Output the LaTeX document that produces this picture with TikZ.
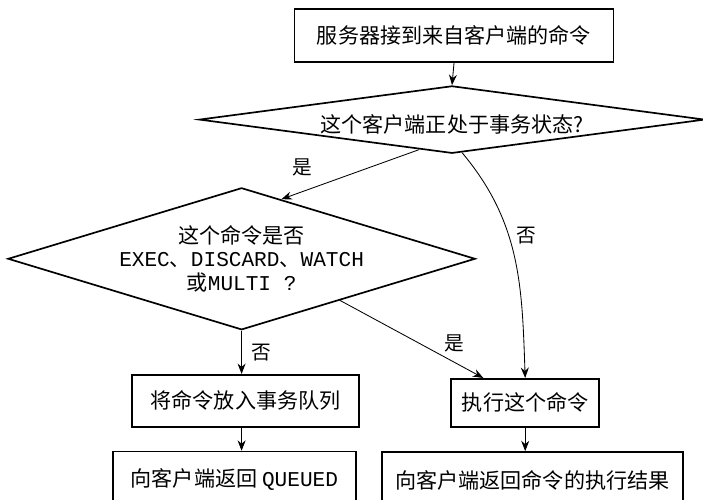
\documentclass[tikz,border=0pt]{standalone}
\usepackage{fontspec}
\setmainfont{Noto Sans CJK SC}
\setmonofont{Liberation Mono}
\usepackage{tikz}
\usetikzlibrary{arrows.meta,calc,positioning,shapes.geometric}

\begin{document}
\begin{tikzpicture}[>={Stealth[length=2.6mm,width=2mm]},
    every node/.append style={font=\fontsize{15}{17}\selectfont},
    procbox/.style={draw, line width=1.2pt, inner sep=0pt},
    decision/.style={draw, diamond, line width=1.2pt, inner sep=0pt, align=center},
    flow/.style={->, line width=0.6pt},
    answer/.style={font=\fontsize{14}{16}\selectfont, inner sep=1pt}]
    \useasboundingbox (0,0) rectangle (17.575,12.5);
    \node[procbox, minimum width=7.98cm, minimum height=1.33cm] (recv) at (11.35,11.61) {服务器接到来自客户端的命令};
    \node[decision, aspect=7.5, minimum width=12.5cm, minimum height=1.675cm, text height=21pt, text depth=2pt] (state) at (11.3,9.51) {这个客户端正处于事务状态?};
    \node[decision, aspect=3.3, minimum width=11.68cm, minimum height=3.55cm] (check) at (6.04,6.03) {这个命令是否\\\texttt{EXEC}、\texttt{DISCARD}、\texttt{WATCH}\\或\texttt{MULTI ?}};
    \node[procbox, minimum width=5.68cm, minimum height=1.3cm] (queue) at (6.14,2.48) {将命令放入事务队列};
    \node[procbox, minimum width=3.7cm, minimum height=1.2cm] (exec) at (13.13,2.43) {执行这个命令};
    \node[procbox, minimum width=6.08cm, minimum height=1.4cm] (reply) at (5.86,0.51) {向客户端返回 \texttt{QUEUED}};
    \node[procbox, minimum width=7.53cm, minimum height=1.4cm] (result) at (13.31,0.5) {向客户端返回命令的执行结果};
    \draw[flow] (recv.south) -- (state.north);
    \draw[flow] ($(state.west)!0.87!(state.south)$) -- node[answer, pos=0.85, above=10pt] {是} ($(check.north)!0.17!(check.east)$);
    \draw[flow] ($(state.south)!0.04!(state.east)$) to[out=-50, in=92] node[answer, pos=0.4, right=4pt] {否} (exec.north);
    \draw[flow] (check.south) -- node[answer, right=6pt] {否} (check.south |- queue.north);
    \draw[flow] ($(check.south)!0.42!(check.east)$) -- node[answer, pos=0.8, above=6pt] {是} ($(exec.north west)!0.22!(exec.north east)$);
    \draw[flow] (check.south |- queue.south) -- (check.south |- reply.north);
    \draw[flow] (exec.south) -- (exec.south |- result.north);
  \end{tikzpicture}
\end{document}
